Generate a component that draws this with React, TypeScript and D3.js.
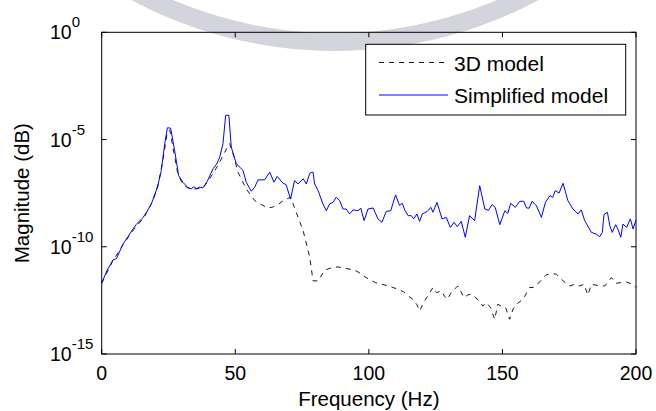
import React from "react";
import * as d3 from "d3";

// Frequencies (Hz) and log10 magnitudes
const simplifiedFreq = [0,2,4.2,5.5,8,10,11.7,13,15.5,17,18.6,20.4,21.5,22.3,23.6,24.6,25.8,27.3,28.8,30.4,32.3,33.5,34.5,35.5,36.5,37.9,39.5,41.7,43,44.2,45.4,46.4,47.6,48.5,50.4,52.9,54.1,56,57.3,58.5,61,62.9,64.5,65.7,67.9,69,70.7,72.2,73.5,75.4,76.6,77.9,79.1,79.7,81,82.8,84.1,85.3,86.6,87.8,89.1,90.3,91.5,92.8,94.1,95.9,97,98.2,99.7,101.6,103.4,104.9,106.5,108.2,110,111.5,112.5,113.5,114.7,115.9,116.8,118,119,120,121.9,123.2,124,125.5,127.4,129,130.5,131.9,133.1,134.6,136.1,137.7,139.6,141.5,143.4,144.8,146.1,147.3,149,150.9,152,153.1,154.8,156.5,158,159,160,161.1,162.7,164.6,166.1,167.8,168.8,169.8,171.2,172.7,174.5,176.4,178.3,179.5,180.8,183.3,185,186.4,187.4,188,189.3,190.2,191.1,192.4,193.3,194.3,195.1,196.5,197.9,198.9,200];
const simplifiedLog = [-11.7,-11.1,-10.62,-10.55,-9.87,-9.5,-9.17,-8.95,-8.63,-8.35,-8.0,-7.38,-6.9,-6.44,-5.19,-4.45,-4.47,-5.51,-6.68,-6.99,-7.25,-7.3,-7.2,-7.3,-7.22,-7.25,-6.95,-6.36,-6.15,-5.82,-5.19,-3.87,-3.87,-5.35,-6.13,-6.44,-6.99,-7.41,-7.22,-6.88,-6.88,-6.52,-6.99,-6.72,-7.04,-7.1,-7.77,-6.91,-7.07,-6.83,-7.07,-6.57,-6.52,-7.07,-7.38,-8.0,-8.32,-8.0,-7.93,-7.69,-7.85,-8.24,-8.24,-8.47,-8.28,-8.32,-8.2,-8.78,-8.24,-8.19,-8.7,-8.86,-8.35,-8.32,-7.58,-8.08,-7.97,-8.3,-8.55,-8.55,-8.7,-8.47,-8.82,-8.47,-8.35,-8.16,-8.39,-7.93,-8.7,-8.63,-9.1,-8.86,-9.06,-8.82,-9.56,-8.55,-8.78,-7.15,-8.24,-8.3,-8.03,-8.16,-8.97,-8.32,-8.45,-7.97,-8.16,-7.88,-7.88,-8.19,-8.2,-7.88,-8.08,-8.63,-7.93,-7.61,-7.7,-7.38,-7.5,-7.04,-7.85,-8.24,-8.47,-8.28,-8.78,-9.33,-9.4,-9.53,-9.33,-8.5,-8.39,-9.02,-9.33,-8.97,-9.2,-9.56,-8.94,-9.1,-8.7,-9.17,-8.75];

const model3DFreq = [0,4,8,12,16,19,21,23,24.5,25.5,27,28.5,30,32,35,38,40,42,44,46,47.9,49.5,51,54.1,57.3,60,62.2,64,66,67.9,70.7,72.8,75.4,77.9,79.1,81,83.5,86,88.5,91,94.7,97,99,102.4,105,107.2,109,110.9,113,114.7,116.5,118,119,120.5,122.1,124,125.3,127.1,128.3,129.4,131,132.7,133.4,134.5,135.6,137,138.1,139.5,141,142.7,144,145.6,147.1,148.3,150,151.2,152.7,154,155.2,157.7,160.2,161.5,163.1,166.4,168.5,170.2,172.7,175.2,177,178.9,180.5,182,183.3,185.5,188.3,190.8,192.5,194.5,196.5,198.9,200];
const model3DLog = [-11.7,-10.7,-9.9,-9.2,-8.6,-7.9,-7.2,-5.9,-4.7,-4.55,-5.6,-6.6,-7.0,-7.25,-7.3,-7.25,-6.9,-6.52,-6.1,-5.6,-5.19,-5.8,-6.52,-7.3,-7.85,-8.05,-8.19,-8.15,-8.03,-7.85,-7.69,-8.39,-9.25,-10.5,-11.59,-11.59,-11.09,-10.98,-10.94,-11.0,-11.09,-11.25,-11.44,-11.67,-11.75,-11.83,-11.9,-11.98,-12.1,-12.29,-12.45,-12.7,-12.99,-12.6,-12.29,-11.9,-12.14,-12.06,-12.3,-12.45,-12.1,-11.9,-11.83,-12.1,-12.37,-12.25,-12.21,-12.3,-12.5,-12.76,-12.6,-12.84,-13.38,-12.68,-12.8,-12.84,-13.38,-12.9,-12.68,-12.45,-11.9,-11.9,-11.75,-11.31,-11.25,-11.28,-11.59,-11.83,-11.75,-11.83,-11.75,-12.25,-11.75,-11.8,-11.83,-11.44,-11.7,-11.67,-11.65,-11.75,-11.9];

const xTicks = [0, 50, 100, 150, 200];
const yTickExps = [0, -5, -10, -15];
const seriesNames = ["3D model", "Simplified model"];

const W = 656, H = 411;
const L = 101.7, R = 636, T = 32.3, B = 354;
const FONT = "Arial, 'Liberation Sans', Helvetica, sans-serif";

export default function App() {
  const x = d3.scaleLinear().domain([0, 200]).range([L, R]);
  const y = d3.scaleLog().domain([1e-15, 1]).range([B, T]);
  const line = d3.line<[number, number]>().x(d => x(d[0])).y(d => y(d[1]));
  const blue = simplifiedFreq.map((f, i) => [f, Math.pow(10, simplifiedLog[i])] as [number, number]);
  const dash = model3DFreq.map((f, i) => [f, Math.pow(10, model3DLog[i])] as [number, number]);
  const tl = 5;

  // watermark arc
  const cx = 335, cy = -381, rOut = 432, rIn = 414;
  const arc = d3.arc()({ innerRadius: rIn, outerRadius: rOut, startAngle: Math.PI / 2 + 0.55, endAngle: Math.PI * 1.5 - 0.55 } as any);

  return (
    <svg width={W} height={H} style={{ position: "fixed", left: 0, top: 0, background: "#fff" }} fontFamily={FONT}>
      <rect width={W} height={H} fill="#fff" />
      <g transform={`translate(${cx},${cy})`}>
        <path d={arc || ""} fill="#d4d4dc" />
      </g>
      <rect x={L} y={T} width={R - L} height={B - T} fill="none" stroke="#000" strokeWidth={1} />
      {xTicks.map(t => (
        <g key={"x" + t}>
          <line x1={x(t)} x2={x(t)} y1={B} y2={B - tl} stroke="#000" />
          <line x1={x(t)} x2={x(t)} y1={T} y2={T + tl} stroke="#000" />
          <text x={x(t)} y={380} textAnchor="middle" fontSize={19.5}>{t}</text>
        </g>
      ))}
      {yTickExps.map(e => (
        <g key={"y" + e}>
          <line x1={L} x2={L + tl} y1={y(Math.pow(10, e))} y2={y(Math.pow(10, e))} stroke="#000" />
          <line x1={R} x2={R - tl} y1={y(Math.pow(10, e))} y2={y(Math.pow(10, e))} stroke="#000" />
          <text x={50} y={y(Math.pow(10, e)) + 7} fontSize={19.5}>
            10<tspan dy={-12} fontSize={15}>{e === 0 ? "0" : "-" + Math.abs(e)}</tspan>
          </text>
        </g>
      ))}
      <path d={line(dash) || ""} fill="none" stroke="#000" strokeWidth={0.9} strokeDasharray="5,5" />
      <path d={line(blue) || ""} fill="none" stroke="#0000ff" strokeWidth={1} />
      <g>
        <rect x={365.7} y={44.3} width={260} height={70.7} fill="#fff" stroke="#000" strokeWidth={1} />
        <line x1={379} x2={448} y1={62.5} y2={62.5} stroke="#000" strokeWidth={0.9} strokeDasharray="5,5" />
        <line x1={379} x2={448} y1={95} y2={95} stroke="#0000ff" strokeWidth={1} />
        <text x={454} y={71} fontSize={21}>{seriesNames[0]}</text>
        <text x={454} y={102.7} fontSize={21}>{seriesNames[1]}</text>
      </g>
      <text x={(L + R) / 2} y={406} textAnchor="middle" fontSize={20.5}>Frequency (Hz)</text>
      <text transform={`translate(29,${(T + B) / 2}) rotate(-90)`} textAnchor="middle" fontSize={20.5}>Magnitude (dB)</text>
    </svg>
  );
}
